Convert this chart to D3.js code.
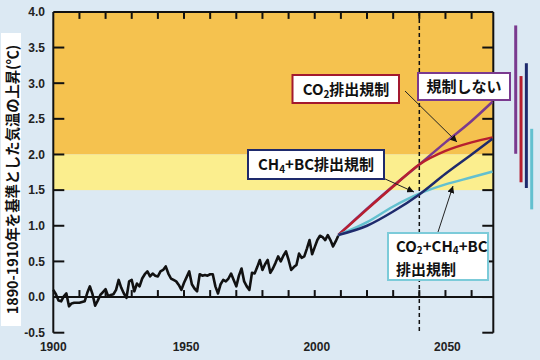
<!DOCTYPE html>
<html><head><meta charset="utf-8">
<script src="https://cdn.jsdelivr.net/npm/d3@7"></script>
<style>
html,body{margin:0;padding:0;background:#dce9f3;}
svg{display:block;}
</style></head><body>
<svg id="c" width="540" height="360"></svg>
<script>
// ---------- DATA ----------
const obsYears = d3.range(1900, 2010);
const obsValues = [
 0.10,0.04,-0.05,-0.06,0.01,0.05,-0.13,-0.09,-0.08,-0.08,
 -0.08,-0.07,-0.06,0.06,0.15,0.04,-0.12,-0.05,0.03,0.07,
 0.11,0.01,0.03,0.04,0.10,0.24,0.13,0.05,-0.01,0.22,
 0.24,0.08,0.19,0.15,0.26,0.32,0.36,0.29,0.33,0.30,
 0.29,0.36,0.38,0.43,0.33,0.26,0.24,0.22,0.17,0.10,
 0.20,0.28,0.36,0.18,0.12,0.08,0.32,0.30,0.31,0.30,
 0.32,0.32,0.15,0.05,0.18,0.24,0.22,0.26,0.33,0.24,
 0.15,0.30,0.40,0.22,0.15,0.10,0.34,0.33,0.42,0.52,
 0.38,0.46,0.52,0.34,0.40,0.48,0.57,0.50,0.58,0.64,
 0.52,0.38,0.42,0.45,0.61,0.55,0.57,0.68,0.80,0.60,
 0.70,0.80,0.86,0.84,0.80,0.87,0.80,0.71,0.78,0.86
];
const projYears   = [2009, 2020, 2030, 2040, 2050, 2060, 2068];
const noControl   = [0.87, 1.24, 1.56, 1.86, 2.17, 2.47, 2.74];
const co2Control  = [0.87, 1.23, 1.55, 1.86, 2.05, 2.17, 2.24];
const ch4bcControl= [0.87, 1.00, 1.20, 1.44, 1.73, 2.00, 2.22];
const allControl  = [0.87, 1.05, 1.27, 1.45, 1.58, 1.68, 1.76];
const seriesNames = ["規制しない", "CO2排出規制", "CH4+BC排出規制", "CO2+CH4+BC排出規制"];
const rangeLow    = [2.01, 1.61, 1.53, 1.23];
const rangeHigh   = [3.81, 3.10, 3.28, 2.36];
const xTickLabels = [1900, 1950, 2000, 2050];
const yTickLabels = ["-0.5","0.0","0.5","1.0","1.5","2.0","2.5","3.0","3.5","4.0"];
const bandLow = [2.0, 1.5];
const bandHigh = [4.0, 2.0];
const markerYear = 2040;
const yLabel = "1890-1910年を基準とした気温の上昇(℃)";

// ---------- STYLE ----------
const seriesColors = ["#7a3a8e", "#b71f2f", "#1e2a6c", "#63c0cf"];
const boxBorders   = ["#7a3a8e", "#a3192f", "#1e2a6c", "#7ccbd9"];
const bandColors = ["#f5c24f", "#fbee8e"];
const FONT = "'Noto Sans CJK JP','Noto Sans',sans-serif";
const TICKFONT = "'Liberation Sans',Arial,sans-serif";

const svg = d3.select("#c");
const x = d3.scaleLinear().domain([1900, 2068.3]).range([53.3, 493.3]);
const y = d3.scaleLinear().domain([-0.5, 4]).range([332.7, 11.9]);

// bands
svg.selectAll("rect.band").data(bandLow).join("rect")
  .attr("x", x(1900)).attr("width", x.range()[1]-x.range()[0])
  .attr("y", (d,i)=>y(bandHigh[i])).attr("height",(d,i)=>y(d)-y(bandHigh[i]))
  .attr("fill",(d,i)=>bandColors[i]);

// y label box
svg.append("rect").attr("x",1).attr("y",33).attr("width",20).attr("height",293).attr("fill","#fff");
svg.append("text").attr("transform","translate(11.5,179.5) rotate(-90)")
  .attr("text-anchor","middle").attr("dominant-baseline","central")
  .attr("font-family",FONT).attr("font-weight","bold").attr("font-size",14.3)
  .attr("fill","#111").text(yLabel);

// frame
const X0 = x.range()[0], X1 = x.range()[1];
const g = svg.append("g").attr("stroke","#111").attr("stroke-width",2).attr("fill","none");
g.append("line").attr("x1",X0).attr("x2",X0).attr("y1",y(4)).attr("y2",y(-0.5));
g.append("line").attr("x1",X1).attr("x2",X1).attr("y1",y(4)).attr("y2",y(-0.5));
g.append("line").attr("x1",X0).attr("x2",X1).attr("y1",y(4)).attr("y2",y(4));
g.append("line").attr("x1",X0).attr("x2",X1).attr("y1",y(0)).attr("y2",y(0));
const yVals = yTickLabels.map(Number);
g.selectAll("line.yl").data(yVals.slice(0,-1)).join("line")
  .attr("x1",X0).attr("x2",X0+11).attr("y1",d=>y(d)).attr("y2",d=>y(d));
g.selectAll("line.yr").data(yVals.slice(0,-1)).join("line")
  .attr("x1",X1).attr("x2",X1-11).attr("y1",d=>y(d)).attr("y2",d=>y(d));
const decades = d3.range(1910, 2061, 10);
g.selectAll("line.xt").data(decades).join("line")
  .attr("x1",d=>x(d)).attr("x2",d=>x(d)).attr("y1",y(4)).attr("y2",y(4)+7);
g.selectAll("line.xz").data(decades).join("line")
  .attr("x1",d=>x(d)).attr("x2",d=>x(d)).attr("y1",y(0)).attr("y2",y(0)-7);

// tick labels
svg.selectAll("text.yt").data(yTickLabels).join("text")
  .attr("x",45).attr("y",d=>y(+d)).attr("dy","0.36em").attr("text-anchor","end")
  .attr("font-family",TICKFONT).attr("font-weight","bold").attr("font-size",12).attr("fill","#222")
  .text(d=>d);
svg.selectAll("text.xt").data(xTickLabels).join("text")
  .attr("x",d=>x(d)+(d===1900?0:2)).attr("y",351).attr("text-anchor","middle")
  .attr("font-family",TICKFONT).attr("font-weight","bold").attr("font-size",12).attr("fill","#222")
  .text(d=>d);

// dashed line at 2040
svg.append("line").attr("x1",x(markerYear)).attr("x2",x(markerYear))
  .attr("y1",y(4)).attr("y2",y(-0.5)).attr("stroke","#111").attr("stroke-width",1.5)
  .attr("stroke-dasharray","4,3");

// observed line
const line = d3.line().x(d=>x(d[0])).y(d=>y(d[1]));
svg.append("path").datum(obsYears.map((yr,i)=>[yr,obsValues[i]]))
  .attr("d",line).attr("fill","none").attr("stroke","#111").attr("stroke-width",2.6)
  .attr("stroke-linejoin","round");

// projections
const proj = [noControl, co2Control, ch4bcControl, allControl];
const curve = d3.line().x(d=>x(d[0])).y(d=>y(d[1])).curve(d3.curveMonotoneX);
[0,1,3,2].forEach(i=>{
  svg.append("path").datum(projYears.map((yr,j)=>[yr,proj[i][j]]))
    .attr("d",curve).attr("fill","none").attr("stroke",seriesColors[i]).attr("stroke-width",2.5);
});

// range bars
const bx = d3.scalePoint().domain(seriesNames).range([515.7, 531.7]);
svg.selectAll("line.rb").data(seriesNames).join("line")
  .attr("x1",d=>bx(d)).attr("x2",d=>bx(d))
  .attr("y1",(d,i)=>y(rangeHigh[i])).attr("y2",(d,i)=>y(rangeLow[i]))
  .attr("stroke",(d,i)=>seriesColors[i]).attr("stroke-width",3);

// arrows
svg.append("defs").append("marker").attr("id","ah").attr("viewBox","0 0 10 10")
  .attr("refX",10).attr("refY",5).attr("markerWidth",7).attr("markerHeight",7)
  .attr("orient","auto").attr("markerUnits","userSpaceOnUse")
  .append("path").attr("d","M0,0 L10,5 L0,10 z").attr("fill","#111");
const arrows = [[405,91,457,142],[383,178,414,192],[438,232,453,186]];
svg.selectAll("line.ar").data(arrows).join("line")
  .attr("x1",d=>d[0]).attr("y1",d=>d[1]).attr("x2",d=>d[2]).attr("y2",d=>d[3])
  .attr("stroke","#222").attr("stroke-width",1).attr("marker-end","url(#ah)");

// annotation boxes
function box(bx0,by0,w,h,color){
  svg.append("rect").attr("x",bx0).attr("y",by0).attr("width",w).attr("height",h)
    .attr("fill","#fff").attr("stroke",color).attr("stroke-width",2);
}
function label(tx,ty,parts,anchor){
  const t = svg.append("text").attr("x",tx).attr("y",ty).attr("text-anchor",anchor||"middle")
    .attr("font-family",FONT).attr("font-weight","bold").attr("font-size",15).attr("fill","#111");
  let shift = 0;
  parts.forEach(p=>{
    const ts = t.append("tspan").text(p.t);
    if(p.sub){ ts.attr("font-size",10).attr("dy",2.5); shift = -2.5; }
    else if(shift){ ts.attr("dy",shift); shift = 0; }
  });
}
box(292.5,75,106.5,28,boxBorders[1]);
label(346,95,[{t:"CO"},{t:"2",sub:true},{t:"排出規制"}]);
box(418,73,92,27,boxBorders[0]);
label(464,92,[{t:"規制しない"}]);
box(248,150,136,29,boxBorders[2]);
label(316,170,[{t:"CH"},{t:"4",sub:true},{t:"+BC排出規制"}]);
box(388,233,100,47,boxBorders[3]);
label(396,251.5,[{t:"CO"},{t:"2",sub:true},{t:"+CH"},{t:"4",sub:true},{t:"+BC"}],"start");
label(396,274.5,[{t:"排出規制"}],"start");
</script>
</body></html>
